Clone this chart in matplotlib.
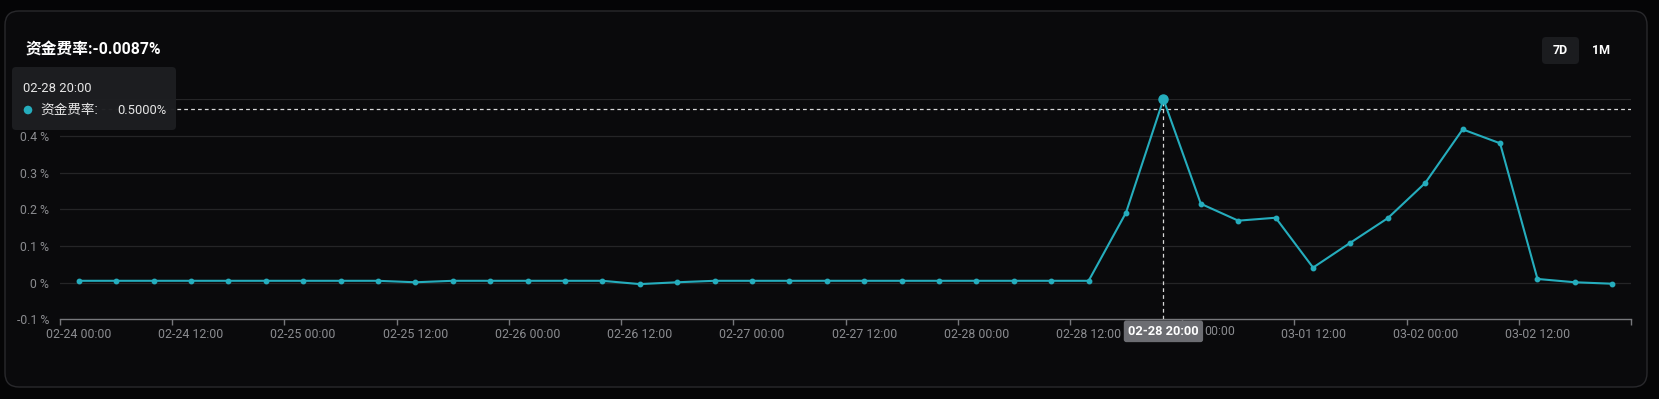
import matplotlib
matplotlib.use("Agg")
import matplotlib.pyplot as plt
from matplotlib.patches import FancyBboxPatch, Circle
from matplotlib.ticker import FixedLocator, FuncFormatter
import numpy as np
import pandas as pd

# ---------------- data ----------------
times = pd.date_range("2025-02-24 00:00", periods=42, freq="4h")
categories = [t.strftime("%m-%d %H:%M") for t in times]
funding_rate = [
    0.005, 0.005, 0.005, 0.005, 0.005, 0.005, 0.005, 0.005, 0.005, 0.001,
    0.005, 0.005, 0.005, 0.005, 0.005, -0.004, 0.001, 0.005, 0.005, 0.005,
    0.005, 0.005, 0.005, 0.005, 0.005, 0.005, 0.005, 0.005, 0.191, 0.500,
    0.215, 0.169, 0.177, 0.041, 0.109, 0.176, 0.272, 0.418, 0.380, 0.010,
    0.001, -0.003,
]
y_ticks = [-0.1, 0.0, 0.1, 0.2, 0.3, 0.4, 0.5]
y_tick_labels = ["-0.1 %", "0 %", "0.1 %", "0.2 %", "0.3 %", "0.4 %", ""]  # top one hidden by tooltip
title_text = "资金费率:-0.0087%"
hover_index = 29
hover_value_text = "0.5000%"
crosshair_y = 0.474
series_name = "资金费率:"
range_buttons = ["7D", "1M"]

# ---------------- style ----------------
W, H = 1659, 399
LINE = "#25adbd"
GRID = "#252527"
AXIS = "#77787c"
LABEL = "#8b8c90"
FONT = ["Roboto", "Noto Sans CJK SC", "DejaVu Sans"]
plt.rcParams["font.family"] = FONT

fig = plt.figure(figsize=(W / 100, H / 100), dpi=100, facecolor="#050506")

def px_to_fig(x0, y0, x1, y1):
    return [x0 / W, 1 - y1 / H, (x1 - x0) / W, (y1 - y0) / H]

# background panel
bg = fig.add_axes([0, 0, 1, 1], zorder=0)
bg.set_xlim(0, W); bg.set_ylim(H, 0); bg.axis("off")
bg.add_patch(FancyBboxPatch((5, 11), 1642, 376, boxstyle="round,pad=0,rounding_size=14",
                            facecolor="#0a0a0c", edgecolor="#29292c", lw=1.0))

# main chart
ax = fig.add_axes(px_to_fig(60, 99.3, 1631, 319.3), zorder=1)
ax.set_facecolor("none")
x = np.arange(len(categories))
ax.set_xlim(-0.5, len(categories) - 0.5)
ax.set_ylim(-0.1, 0.5)

for yv in y_ticks[1:]:
    ax.axhline(yv, color=GRID, lw=0.9, zorder=1)

ax.plot(x, funding_rate, color=LINE, lw=1.5, marker="o", ms=3.2,
        markerfacecolor=LINE, markeredgecolor=LINE, zorder=4, clip_on=False)
ax.plot([x[hover_index]], [funding_rate[hover_index]], marker="o", ms=6.5,
        color=LINE, zorder=5, clip_on=False)

# crosshair
ax.axvline(x[hover_index], color="#d8d8d8", lw=0.9, ls=(0, (3, 2.5)), zorder=3)
ax.axhline(crosshair_y, color="#d8d8d8", lw=0.9, ls=(0, (3, 2.5)), zorder=3)

for s in ["top", "right", "left"]:
    ax.spines[s].set_visible(False)
ax.spines["bottom"].set_color(AXIS)
ax.spines["bottom"].set_linewidth(1.0)

label_idx = list(range(0, len(categories), 3))
# the label right after the hovered one is mostly covered by the highlight box
covered_idx = hover_index + 1
ax.xaxis.set_major_locator(FixedLocator(label_idx))
ax.set_xticklabels(["" if i == covered_idx else categories[i] for i in label_idx])
ax.xaxis.set_minor_locator(FixedLocator(np.arange(-0.5, len(categories), 3)))
ax.tick_params(axis="x", which="major", length=0, pad=6, labelsize=8.9, labelcolor=LABEL)
ax.tick_params(axis="x", which="minor", length=4.5, width=1.0, color=AXIS, direction="out")

ax.yaxis.set_major_locator(FixedLocator(y_ticks))
ax.set_yticklabels(y_tick_labels)
ax.tick_params(axis="y", length=0, pad=8, labelsize=8.8, labelcolor=LABEL)

# visible tail of the covered label
ax.annotate(categories[covered_idx].split(" ")[1], xy=(x[covered_idx], 0),
            xycoords=("data", "axes fraction"), xytext=(3, -12), textcoords="offset pixels",
            ha="left", va="center", fontsize=8.9, color=LABEL, annotation_clip=False)

# highlighted x label
ax.annotate(categories[hover_index], xy=(x[hover_index], 0), xycoords=("data", "axes fraction"),
            xytext=(0, -12), textcoords="offset pixels", ha="center", va="center",
            fontsize=9.2, fontweight="bold", color="white", zorder=10, annotation_clip=False,
            bbox=dict(boxstyle="round,pad=0.34,rounding_size=0.2", facecolor="#6c6d72",
                      edgecolor="none"))

# overlay: title, buttons, tooltip
ov = fig.add_axes([0, 0, 1, 1], zorder=3)
ov.set_xlim(0, W); ov.set_ylim(H, 0); ov.axis("off"); ov.set_facecolor("none")

ov.text(26, 50, title_text, fontsize=11.3, fontweight="bold", color="white",
        ha="left", va="center")

ov.add_patch(FancyBboxPatch((1542, 37), 37, 27, boxstyle="round,pad=0,rounding_size=4",
                            facecolor="#1b1c1f", edgecolor="none"))
ov.text(1560.5, 50.5, range_buttons[0], fontsize=9, fontweight="bold", color="white",
        ha="center", va="center")
ov.text(1601, 50.5, range_buttons[1], fontsize=9, fontweight="bold", color="white",
        ha="center", va="center")

ov.add_patch(FancyBboxPatch((12, 67), 164, 63, boxstyle="round,pad=0,rounding_size=4",
                            facecolor="#1d1e21", edgecolor="none", alpha=0.97))
ov.text(23, 88, categories[hover_index], fontsize=9.4, color="#e6e6e6", ha="left", va="center")
ov.add_patch(Circle((28, 110), 4.3, facecolor=LINE, edgecolor="none"))
ov.text(40, 110, series_name, fontsize=9.8, color="#e6e6e6", ha="left", va="center")
ov.text(166, 110, hover_value_text, fontsize=9.4, color="#e6e6e6", ha="right", va="center")

fig.savefig("out.png", dpi=100, facecolor=fig.get_facecolor())
